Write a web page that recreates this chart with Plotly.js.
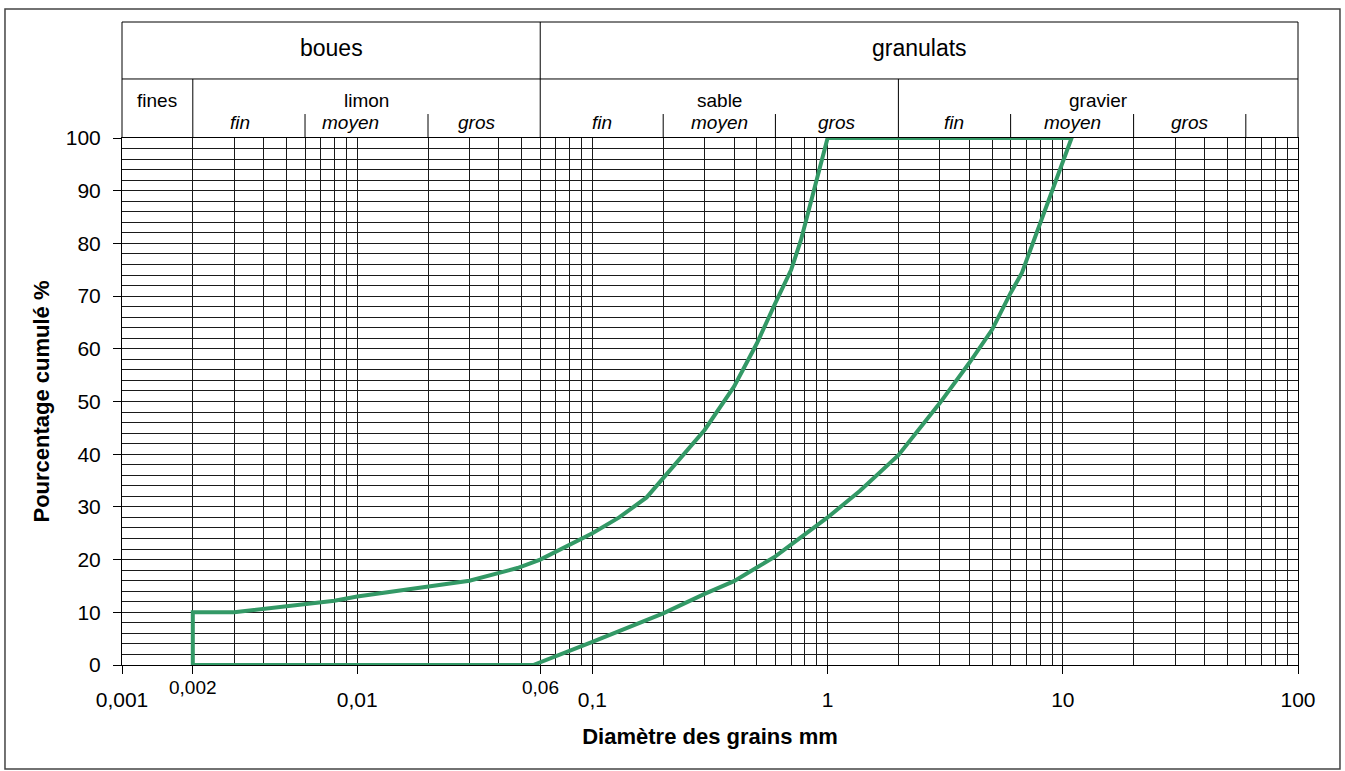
<!DOCTYPE html>
<html>
<head>
<meta charset="utf-8">
<script src="https://cdn.plot.ly/plotly-3.0.1.min.js"></script>
<style>
  html, body { margin: 0; padding: 0; background: #ffffff; }
  #chart { width: 1345px; height: 771px; }
</style>
</head>
<body>
<div id="chart"></div>
<script>
// ---- Data ----
// Fine limit of the grading envelope (diameter mm, cumulative %)
var fineX = [0.002, 0.002, 0.003, 0.004, 0.005, 0.008, 0.01, 0.02, 0.03, 0.048, 0.06, 0.1, 0.13, 0.17, 0.2, 0.3, 0.4, 0.5, 0.6, 0.7, 0.77, 1];
var fineY = [0, 10, 10, 10.7, 11.1, 12.2, 13, 14.9, 16, 18.4, 20, 25, 28, 31.8, 35.5, 44.6, 52.8, 61, 68.7, 75, 80.6, 100];
// Coarse limit of the grading envelope
var coarseX = [0.056, 0.1, 0.2, 0.3, 0.4, 0.5, 0.6, 1, 1.37, 2, 3, 4, 5, 6, 6.7, 10.9];
var coarseY = [0, 4.4, 9.8, 13.5, 15.9, 18.5, 20.6, 28, 33, 39.8, 49.7, 57.3, 63.6, 70.6, 74.4, 100];

// Axis ticks
var xTickVals = [0.001, 0.002, 0.01, 0.06, 0.1, 1, 10, 100];
var xTickText = ["0,001", "", "0,01", "", "0,1", "1", "10", "100"];
var xRaisedVals = [0.002, 0.06];
var xRaisedText = ["0,002", "0,06"];

// Header classification
var groupNames = ["boues", "granulats"];
var groupBounds = [[0.001, 0.06], [0.06, 100]];
var classNames = ["fines", "limon", "sable", "gravier"];
var classBounds = [[0.001, 0.002], [0.002, 0.06], [0.06, 2], [2, 100]];
var subNames = ["fin", "moyen", "gros", "fin", "moyen", "gros", "fin", "moyen", "gros"];
var subPos = [0.00318, 0.0094, 0.032, 0.1095, 0.346, 1.095, 3.46, 10.95, 34.6];
var subDividers = [0.006, 0.02, 0.2, 0.6, 6, 20, 60];

// ---- Build ----
var XMIN = -3, XMAX = 2;
function px(v) { return (Math.log10(v) - XMIN) / (XMAX - XMIN); }
function pmid(a, b) { return (px(a) + px(b)) / 2; }

var minorGrid = [];
for (var e = -3; e < 2; e++) {
  for (var m = 2; m <= 9; m++) minorGrid.push(m * Math.pow(10, e));
}

var envX = fineX.concat(coarseX.slice().reverse()).concat([fineX[0]]);
var envY = fineY.concat(coarseY.slice().reverse()).concat([fineY[0]]);

var traces = [{
  x: envX, y: envY, type: 'scatter', mode: 'lines',
  line: { color: '#339966', width: 4, shape: 'linear' },
  hoverinfo: 'x+y', showlegend: false
}];

var FONT = '"Liberation Sans", Arial, sans-serif';
var LC = '#000000';
var yTop = 1.2201, yMid = 1.112, yShort = 1.0455;

var shapes = [];
function line(x0, y0, x1, y1, c, w) {
  shapes.push({ type: 'line', xref: 'paper', yref: 'paper', x0: x0, y0: y0, x1: x1, y1: y1,
    line: { color: c || LC, width: w || 1 } });
}
// header frame
line(0, yTop, 1, yTop);
line(0, yMid, 1, yMid);
line(0, 1, 0, yTop);
line(1, 1, 1, yTop);
line(px(0.06), 1, px(0.06), yTop);
line(px(0.002), 1, px(0.002), yMid);
line(px(2), 1, px(2), yMid);
subDividers.forEach(function (d) { line(px(d), 1, px(d), yShort); });
// outer frame
shapes.push({ type: 'rect', xref: 'paper', yref: 'paper',
  x0: -0.0995, x1: 1.0357, y0: -0.1975, y1: 1.2448,
  line: { color: '#444444', width: 1.5 }, fillcolor: 'rgba(0,0,0,0)' });

var annotations = [];
groupNames.forEach(function (n, i) {
  annotations.push({ text: n, xref: 'paper', yref: 'paper', x: pmid(groupBounds[i][0], groupBounds[i][1]),
    y: 1.1708, xanchor: 'center', yanchor: 'middle', showarrow: false,
    font: { family: FONT, size: 23, color: '#000' } });
});
classNames.forEach(function (n, i) {
  annotations.push({ text: n, xref: 'paper', yref: 'paper', x: pmid(classBounds[i][0], classBounds[i][1]),
    y: 1.072, xanchor: 'center', yanchor: 'middle', showarrow: false,
    font: { family: FONT, size: 19, color: '#000' } });
});
subNames.forEach(function (n, i) {
  annotations.push({ text: '<i>' + n + '</i>', xref: 'paper', yref: 'paper', x: px(subPos[i]),
    y: 1.0285, xanchor: 'center', yanchor: 'middle', showarrow: false,
    font: { family: FONT, size: 19, color: '#000' } });
});
xRaisedVals.forEach(function (v, i) {
  annotations.push({ text: xRaisedText[i], xref: 'paper', yref: 'paper', x: px(v),
    y: -0.0436, xanchor: 'center', yanchor: 'middle', showarrow: false,
    font: { family: FONT, size: 19, color: '#000' } });
});

var layout = {
  width: 1345, height: 771,
  margin: { l: 122, r: 47, t: 138, b: 106, pad: 0 },
  paper_bgcolor: '#ffffff', plot_bgcolor: '#ffffff',
  font: { family: FONT, color: '#000' },
  showlegend: false,
  xaxis: {
    type: 'log', range: [XMIN, XMAX],
    tickmode: 'array', tickvals: xTickVals, ticktext: xTickText,
    ticks: 'outside', ticklen: 8, tickcolor: '#000', tickwidth: 1,
    ticklabelstandoff: 8,
    tickfont: { family: FONT, size: 21, color: '#000' },
    showgrid: true, gridcolor: '#1a1a1a', gridwidth: 1,
    minor: { tickmode: 'array', tickvals: minorGrid, showgrid: true, gridcolor: '#1a1a1a', gridwidth: 1, ticks: '' },
    showline: true, linecolor: '#000', linewidth: 1, mirror: true,
    zeroline: false,
    title: { text: '<b>Diamètre des grains mm</b>', font: { family: FONT, size: 22, color: '#000' }, standoff: 18 }
  },
  yaxis: {
    range: [0, 100], tickmode: 'linear', tick0: 0, dtick: 10,
    ticks: 'outside', ticklen: 8, tickcolor: '#000', tickwidth: 1,
    ticklabelstandoff: 8,
    tickfont: { family: FONT, size: 21, color: '#000' },
    showgrid: true, gridcolor: '#1a1a1a', gridwidth: 1,
    minor: { dtick: 2, showgrid: true, gridcolor: '#1a1a1a', gridwidth: 1, ticks: '' },
    showline: true, linecolor: '#000', linewidth: 1, mirror: true,
    zeroline: false,
    title: { text: '<b>Pourcentage cumulé %</b>', font: { family: FONT, size: 22, color: '#000' }, standoff: 10 }
  },
  shapes: shapes,
  annotations: annotations
};

Plotly.newPlot('chart', traces, layout, { staticPlot: true, displayModeBar: false });
</script>
</body>
</html>
